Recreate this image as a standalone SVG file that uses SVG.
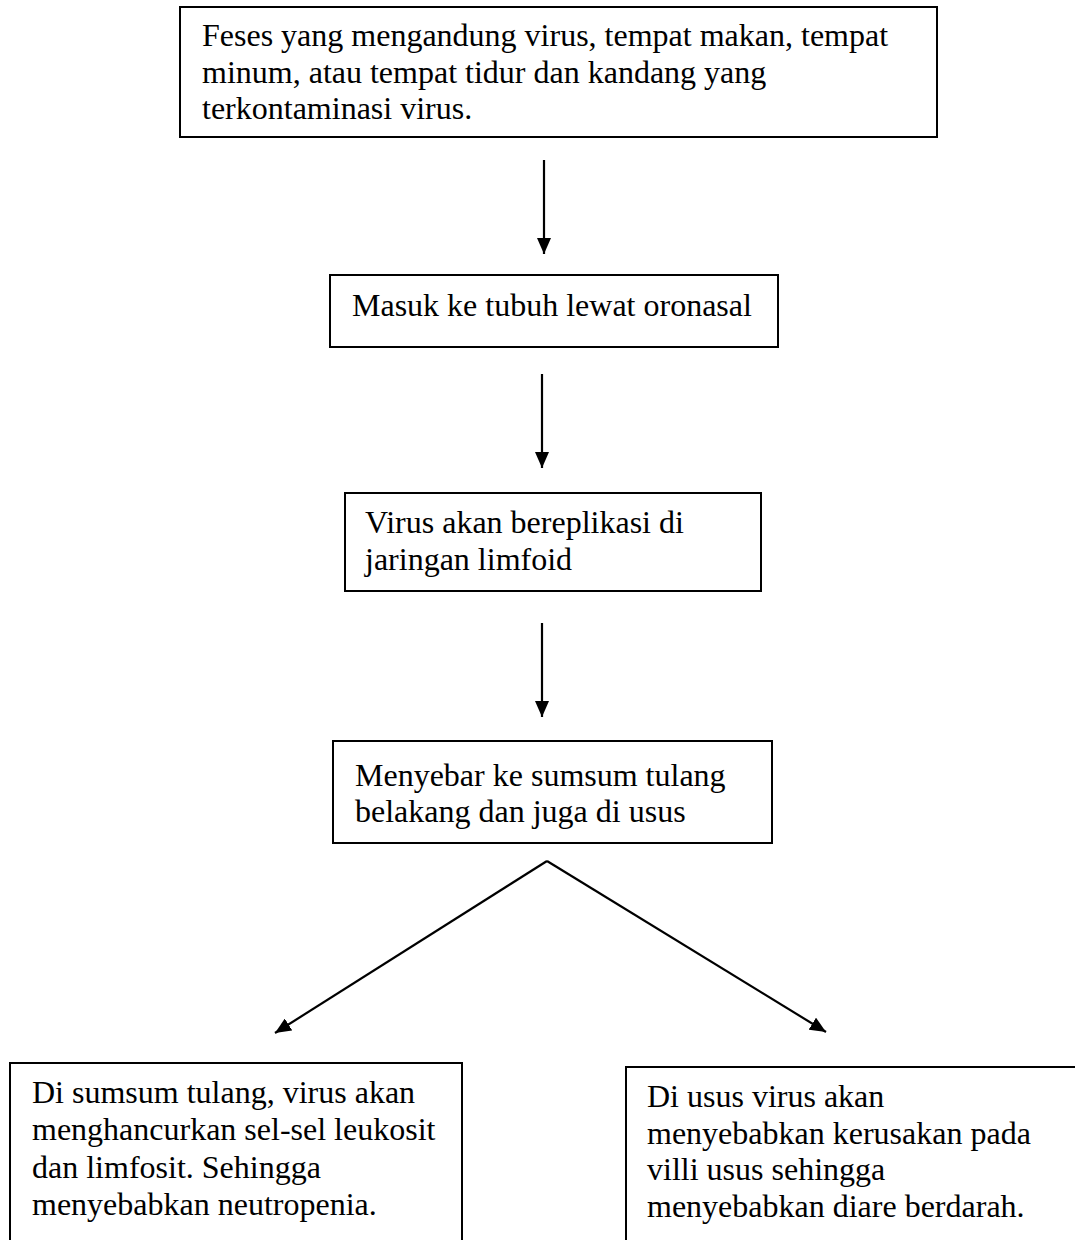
<svg xmlns="http://www.w3.org/2000/svg" width="1075" height="1240" viewBox="0 0 1075 1240">
<style>
.box{fill:#fff;stroke:#000;stroke-width:2}
.t{font-family:"Liberation Serif","Times New Roman",serif;font-size:32px;fill:#000}
.c{stroke:#000;stroke-width:2.2;fill:none}
</style>
<defs>
<marker id="ah" viewBox="0 0 16 14" refX="16" refY="7" markerWidth="16" markerHeight="14" markerUnits="userSpaceOnUse" orient="auto">
<path d="M0,0 L16,7 L0,14 z" fill="#000"/>
</marker>
</defs>
<rect width="1075" height="1240" fill="#fff"/>
<g id="connectors">
<line class="c" x1="544" y1="160" x2="544" y2="254" marker-end="url(#ah)"/>
<line class="c" x1="542" y1="374" x2="542" y2="468" marker-end="url(#ah)"/>
<line class="c" x1="542" y1="623" x2="542" y2="717" marker-end="url(#ah)"/>
<line class="c" x1="547" y1="861" x2="275" y2="1033" marker-end="url(#ah)"/>
<line class="c" x1="547" y1="861" x2="826" y2="1032" marker-end="url(#ah)"/>
</g>
<g id="n1">
<rect class="box" x="180" y="7" width="757" height="130"/>
<text class="t" x="202" y="46">Feses yang mengandung virus, tempat makan, tempat</text>
<text class="t" x="202" y="83">minum, atau tempat tidur dan kandang yang</text>
<text class="t" x="202" y="119">terkontaminasi virus.</text>
</g>
<g id="n2">
<rect class="box" x="330" y="275" width="448" height="72"/>
<text class="t" x="352" y="316">Masuk ke tubuh lewat oronasal</text>
</g>
<g id="n3">
<rect class="box" x="345" y="493" width="416" height="98"/>
<text class="t" x="365" y="533">Virus akan bereplikasi di</text>
<text class="t" x="365" y="570">jaringan limfoid</text>
</g>
<g id="n4">
<rect class="box" x="333" y="741" width="439" height="102"/>
<text class="t" x="355" y="786">Menyebar ke sumsum tulang</text>
<text class="t" x="355" y="822">belakang dan juga di usus</text>
</g>
<g id="n5">
<rect class="box" x="10" y="1063" width="452" height="200"/>
<text class="t" x="32" y="1103">Di sumsum tulang, virus akan</text>
<text class="t" x="32" y="1140">menghancurkan sel-sel leukosit</text>
<text class="t" x="32" y="1178">dan limfosit. Sehingga</text>
<text class="t" x="32" y="1215">menyebabkan neutropenia.</text>
</g>
<g id="n6">
<rect class="box" x="626" y="1067" width="470" height="200"/>
<text class="t" x="647" y="1107">Di usus virus akan</text>
<text class="t" x="647" y="1144">menyebabkan kerusakan pada</text>
<text class="t" x="647" y="1180">villi usus sehingga</text>
<text class="t" x="647" y="1217">menyebabkan diare berdarah.</text>
</g>
</svg>
